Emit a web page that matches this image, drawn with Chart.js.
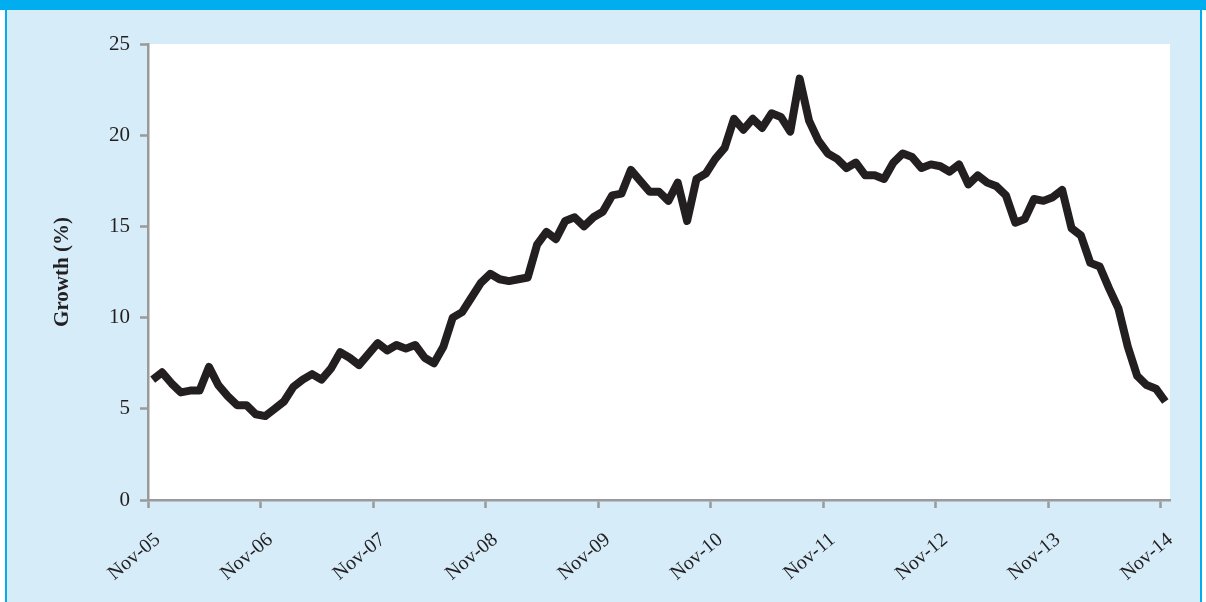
<!DOCTYPE html>
<html>
<head>
<meta charset="utf-8">
<title>Growth (%)</title>
<script src="https://cdn.jsdelivr.net/npm/chart.js@4/dist/chart.umd.min.js"></script>
<style>
  html, body { margin: 0; padding: 0; background: #ffffff; }
  #page { position: relative; width: 1206px; height: 602px; overflow: hidden; background: #ffffff; }
  #box { position: absolute; left: 5px; top: 0; width: 1197px; height: 602px; box-sizing: border-box;
         background: #d6ecf9; border-left: 2px solid #00aeef; border-right: 2px solid #00aeef; }
  #topbar { position: absolute; left: 0; top: 0; width: 1206px; height: 10px; background: #00aeef; }
  #chart { position: absolute; left: 0; top: 0; }
</style>
</head>
<body>
<div id="page">
  <div id="box"></div>
  <div id="topbar"></div>
  <canvas id="chart" width="1206" height="602"></canvas>
</div>
<script>
// ----------------------
// Data (monthly growth, Nov-05 .. Nov-14)
// ----------------------
const growth = [
  6.6, 7.0, 6.4, 5.9, 6.0, 6.0, 7.3, 6.3, 5.7, 5.2, 5.2, 4.7,
  4.6, 5.0, 5.4, 6.2, 6.6, 6.9, 6.6, 7.2, 8.1, 7.8, 7.4, 8.0,
  8.6, 8.2, 8.5, 8.3, 8.5, 7.8, 7.5, 8.4, 10.0, 10.3, 11.1, 11.9,
  12.4, 12.1, 12.0, 12.1, 12.2, 14.0, 14.7, 14.3, 15.3, 15.5, 15.0, 15.5,
  15.8, 16.7, 16.8, 18.1, 17.5, 16.9, 16.9, 16.4, 17.4, 15.3, 17.6, 17.9,
  18.7, 19.3, 20.9, 20.3, 20.9, 20.4, 21.2, 21.0, 20.2, 23.1, 20.8, 19.7,
  19.0, 18.7, 18.2, 18.5, 17.8, 17.8, 17.6, 18.5, 19.0, 18.8, 18.2, 18.4,
  18.3, 18.0, 18.4, 17.3, 17.8, 17.4, 17.2, 16.7, 15.2, 15.4, 16.5, 16.4,
  16.6, 17.0, 14.9, 14.5, 13.0, 12.8, 11.6, 10.5, 8.4, 6.8, 6.3, 6.1,
  5.4
];

const monthNames = ["Jan", "Feb", "Mar", "Apr", "May", "Jun", "Jul", "Aug", "Sep", "Oct", "Nov", "Dec"];
const firstMonth = 10;   // Nov
const firstYear = 5;     // 2005
const yTicks = [0, 5, 10, 15, 20, 25];

// category labels, one per data point
const months = [];
for (let k = 0; k < growth.length; k++) {
  const m = (firstMonth + k) % 12;
  const y = firstYear + Math.floor((firstMonth + k) / 12);
  months.push(monthNames[m] + "-" + String(y).padStart(2, "0"));
}

const serif = "'Liberation Serif', 'Times New Roman', serif";
const ink = "#231f20";
const axisGrey = "#9a9a9a";

// white plot area
const plotBg = {
  id: "plotBg",
  beforeDraw(chart) {
    const { ctx, chartArea: a } = chart;
    ctx.save();
    ctx.fillStyle = "#ffffff";
    ctx.fillRect(a.left, a.top, a.right - a.left, a.bottom - a.top);
    ctx.restore();
  }
};

new Chart(document.getElementById("chart"), {
  type: "line",
  data: {
    labels: months,
    datasets: [{
      data: growth,
      borderColor: ink,
      borderWidth: 8,
      borderJoinStyle: "round",
      pointRadius: 0,
      tension: 0
    }]
  },
  options: {
    responsive: false,
    animation: false,
    layout: { padding: { left: 0, top: 44, right: 36, bottom: 0 } },
    plugins: { legend: { display: false }, tooltip: { enabled: false } },
    scales: {
      x: {
        type: "category",
        offset: true,
        afterFit: s => { s.height = 102; },
        border: { display: true, color: axisGrey, width: 2.5 },
        grid: {
          offset: true,
          drawOnChartArea: false,
          drawTicks: true,
          tickLength: 8,
          tickWidth: 2.5,
          tickColor: c => (c.index % 12 === 0 ? axisGrey : "rgba(0,0,0,0)")
        },
        ticks: {
          autoSkip: false,
          minRotation: 40,
          maxRotation: 40,
          padding: 20,
          labelOffset: 5,
          color: ink,
          font: { family: serif, size: 20 },
          callback: function (value, index) {
            return index % 12 === 0 ? this.getLabelForValue(value) : "";
          }
        }
      },
      y: {
        min: yTicks[0],
        max: yTicks[yTicks.length - 1],
        afterFit: s => { s.width = 148; },
        afterBuildTicks: axis => { axis.ticks = yTicks.map(v => ({ value: v })); },
        border: { display: true, color: axisGrey, width: 2.5 },
        grid: {
          drawOnChartArea: false,
          drawTicks: true,
          tickLength: 8,
          tickWidth: 2.5,
          tickColor: axisGrey
        },
        ticks: {
          padding: 10,
          color: ink,
          font: { family: serif, size: 21 }
        },
        title: {
          display: true,
          text: "Growth (%)",
          color: ink,
          padding: { top: 50, bottom: 0 },
          font: { family: serif, size: 21, weight: "bold" }
        }
      }
    }
  },
  plugins: [plotBg]
});
</script>
</body>
</html>
